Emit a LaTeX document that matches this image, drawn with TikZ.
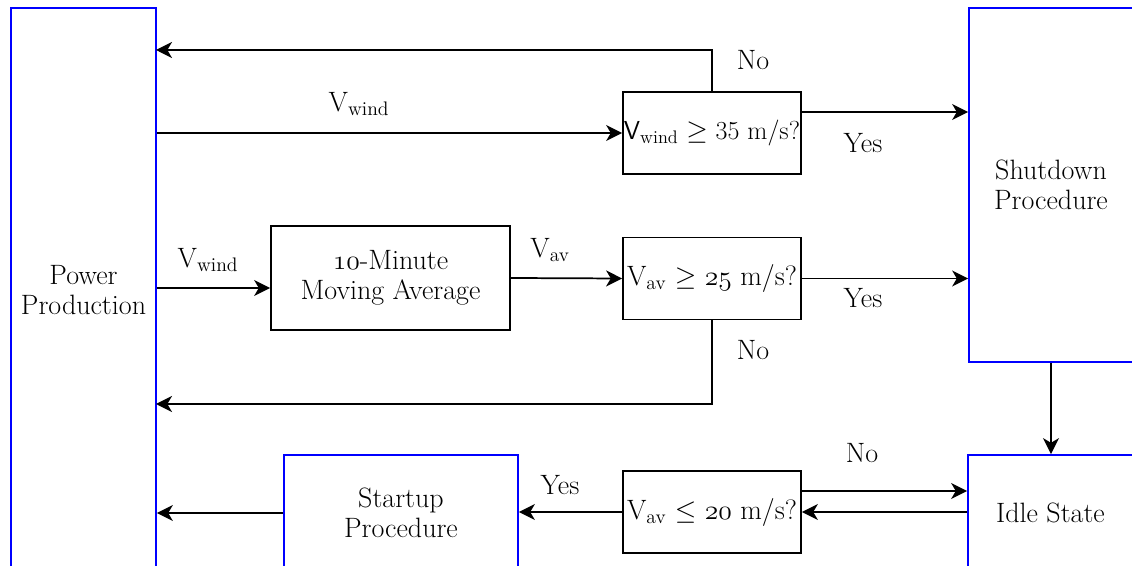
\documentclass[tikz,border=0pt]{standalone}
\usepackage{fontspec}
\newcommand\osfig[1]{{\fontencoding{OML}\fontfamily{cmm}\fontshape{it}\selectfont #1}}
\usetikzlibrary{arrows.meta}
\begin{document}
\begin{tikzpicture}[x=0.75pt,y=-0.75pt,
   font=\fontsize{21}{22.5}\selectfont,
   state/.style={draw=stateblue,line width=1.3pt,align=center,inner sep=0pt},
   test/.style={draw=black,line width=1.3pt,align=center,inner sep=0pt,
     minimum width=133.5pt,minimum height=61.5pt},
   flow/.style={line width=1.3pt,-{Stealth[length=12pt,width=12pt,inset=3.5pt]}}]
   \definecolor{stateblue}{HTML}{0000FF}
   \useasboundingbox (0,0) rectangle (1132,566);
   \clip (0,0) rectangle (1132,566);
   % states
   \node [state,minimum width=108.75pt,minimum height=423pt] (power) at (83.5,290) {Power\\Production};
   \node [state,minimum width=123pt,minimum height=265.5pt] (shutdown) at (1051,185) {Shutdown\\Procedure};
   \node [state,minimum width=123.75pt,minimum height=86.25pt] (idle) at (1050.5,512.5) {Idle State};
   \node [state,minimum width=175.5pt,minimum height=87pt] (startup) at (401,513) {Startup\\Procedure};
   % filter and checks
   \node [test,minimum width=179.25pt,minimum height=78pt] (average) at (390.5,278) {\osfig{10}-Minute\\Moving Average};
   \node [test,font=\fontsize{19.5}{22.5}\selectfont] (check35) at (712,133) {\textsf{V}\textsubscript{wind} $\geq$ 35 m/s?};
   \node [test] (check25) at (712,278.5) {V\textsubscript{av} $\geq$ \osfig{25} m/s?};
   \node [test] (check20) at (712,512) {V\textsubscript{av} $\leq$ \osfig{20} m/s?};
   \coordinate (ret35) at (156,50);
   \coordinate (ret25) at (156,404);
   % top loop
   \draw [flow] (check35.north) |- (ret35);
   \draw [flow] (power.east |- check35.west) -- (check35.west);
   \draw [flow] ([yshift=15.75pt]check35.east) -- ([yshift=15.75pt]check35.east -| shutdown.west);
   \node (no35) at (753,60) {No};
   \node (vwind35) at (359,104) {V\textsubscript{wind}};
   \node (yes35) at (863,143) {Yes};
   % average loop
   \draw [flow] ([yshift=-7.5pt]average.west -| power.east) -- ([yshift=-7.5pt]average.west);
   \draw [flow] (average.east) -- (check25.west);
   \draw [flow] (check25.east) -- (check25.east -| shutdown.west);
   \draw [flow] (check25.south) |- (ret25);
   \node (vwindav) at (208,260) {V\textsubscript{wind}};
   \node (vav) at (550,250) {V\textsubscript{av}};
   \node (yes25) at (863,298) {Yes};
   \node (no25) at (753,350) {No};
   % restart
   \draw [flow] (shutdown.south) -- (shutdown.south |- idle.north);
   \draw [flow] ([yshift=15.75pt]check20.east) -- ([yshift=15.75pt]check20.east -| idle.west);
   \draw [flow] (idle.west |- check20.east) -- (check20.east);
   \draw [flow] (check20.west) -- (check20.west -| startup.east);
   \draw [flow] (startup.west) -- (startup.west -| power.east);
   \node (no20) at (862,453) {No};
   \node (yes20) at (560,485) {Yes};
\end{tikzpicture}
\end{document}
